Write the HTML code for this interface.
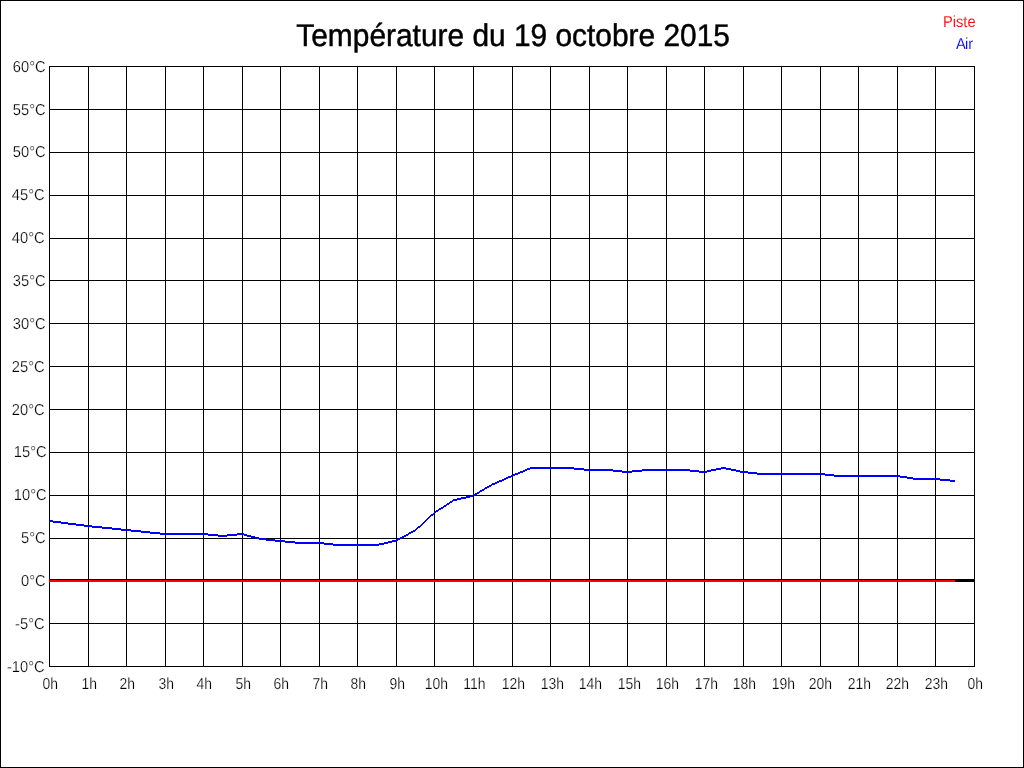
<!DOCTYPE html>
<html lang="fr">
<head>
<meta charset="utf-8">
<title>Température du 19 octobre 2015</title>
<style>
html,body{margin:0;padding:0;background:#fff;}
body{width:1024px;height:768px;overflow:hidden;position:relative;}
#frame{position:absolute;left:0;top:0;width:1022px;height:766px;border:1px solid #000;}
svg{position:absolute;left:0;top:0;will-change:transform;}
text{font-family:"Liberation Sans",Arial,sans-serif;fill:#000;text-rendering:geometricPrecision;}
.ti{font-size:29.8px;stroke:#000;stroke-width:0.45px;}
.lb{font-size:14.67px;stroke:#fff;stroke-width:0.2px;}
</style>
</head>
<body>
<div id="frame"></div>
<svg width="1024" height="768" viewBox="0 0 1024 768">
<g shape-rendering="crispEdges">
<rect x="49" y="66" width="1" height="601" fill="#000"/>
<rect x="88" y="66" width="1" height="601" fill="#000"/>
<rect x="126" y="66" width="1" height="601" fill="#000"/>
<rect x="165" y="66" width="1" height="601" fill="#000"/>
<rect x="203" y="66" width="1" height="601" fill="#000"/>
<rect x="242" y="66" width="1" height="601" fill="#000"/>
<rect x="280" y="66" width="1" height="601" fill="#000"/>
<rect x="319" y="66" width="1" height="601" fill="#000"/>
<rect x="357" y="66" width="1" height="601" fill="#000"/>
<rect x="396" y="66" width="1" height="601" fill="#000"/>
<rect x="434" y="66" width="1" height="601" fill="#000"/>
<rect x="473" y="66" width="1" height="601" fill="#000"/>
<rect x="512" y="66" width="1" height="601" fill="#000"/>
<rect x="550" y="66" width="1" height="601" fill="#000"/>
<rect x="589" y="66" width="1" height="601" fill="#000"/>
<rect x="627" y="66" width="1" height="601" fill="#000"/>
<rect x="666" y="66" width="1" height="601" fill="#000"/>
<rect x="704" y="66" width="1" height="601" fill="#000"/>
<rect x="743" y="66" width="1" height="601" fill="#000"/>
<rect x="781" y="66" width="1" height="601" fill="#000"/>
<rect x="820" y="66" width="1" height="601" fill="#000"/>
<rect x="858" y="66" width="1" height="601" fill="#000"/>
<rect x="897" y="66" width="1" height="601" fill="#000"/>
<rect x="935" y="66" width="1" height="601" fill="#000"/>
<rect x="974" y="66" width="1" height="601" fill="#000"/>
<rect x="49" y="66" width="926" height="1" fill="#000"/>
<rect x="49" y="109" width="926" height="1" fill="#000"/>
<rect x="49" y="152" width="926" height="1" fill="#000"/>
<rect x="49" y="195" width="926" height="1" fill="#000"/>
<rect x="49" y="238" width="926" height="1" fill="#000"/>
<rect x="49" y="280" width="926" height="1" fill="#000"/>
<rect x="49" y="323" width="926" height="1" fill="#000"/>
<rect x="49" y="366" width="926" height="1" fill="#000"/>
<rect x="49" y="409" width="926" height="1" fill="#000"/>
<rect x="49" y="452" width="926" height="1" fill="#000"/>
<rect x="49" y="495" width="926" height="1" fill="#000"/>
<rect x="49" y="538" width="926" height="1" fill="#000"/>
<rect x="49" y="580" width="926" height="1" fill="#000"/>
<rect x="49" y="623" width="926" height="1" fill="#000"/>
<rect x="49" y="666" width="926" height="1" fill="#000"/>
<rect x="49" y="579" width="926" height="3" fill="#000"/>
<rect x="49" y="580" width="906" height="2" fill="#f00"/>
<polygon fill="#00f" points="49.00,520.01 68.27,522.51 87.54,525.01 106.81,527.01 126.08,529.01 145.35,531.01 164.62,533.01 183.90,533.01 203.17,533.01 222.44,535.01 241.71,533.01 260.98,538.01 280.25,540.01 299.52,542.01 318.79,542.01 338.06,544.01 357.33,544.01 376.60,544.21 395.88,539.51 415.15,529.61 434.42,511.81 453.69,499.21 472.96,494.81 492.23,483.51 511.50,475.21 530.77,467.01 550.04,467.01 569.31,467.01 588.58,469.01 607.85,469.01 627.12,471.01 646.40,469.01 665.67,469.01 684.94,469.01 704.21,471.01 723.48,467.01 742.75,471.01 762.02,473.01 781.29,473.01 800.56,473.01 819.83,473.01 839.10,475.01 858.38,475.01 877.65,475.01 896.92,475.01 916.19,478.01 935.46,478.01 954.73,480.01 954.73,482.01 935.46,480.01 916.19,480.01 896.92,477.01 877.65,477.01 858.38,477.01 839.10,477.01 819.83,475.01 800.56,475.01 781.29,475.01 762.02,475.01 742.75,473.01 723.48,469.01 704.21,473.01 684.94,471.01 665.67,471.01 646.40,471.01 627.12,473.01 607.85,471.01 588.58,471.01 569.31,469.01 550.04,469.01 530.77,469.01 511.50,477.21 492.23,485.51 472.96,496.81 453.69,501.21 434.42,513.81 415.15,531.61 395.88,541.51 376.60,546.21 357.33,546.01 338.06,546.01 318.79,544.01 299.52,544.01 280.25,542.01 260.98,540.01 241.71,535.01 222.44,537.01 203.17,535.01 183.90,535.01 164.62,535.01 145.35,533.01 126.08,531.01 106.81,529.01 87.54,527.01 68.27,524.51 49.00,522.01"/>
</g>
<text class="ti" transform="translate(296.3,46) scale(1.003,1.055)">Température du 19 octobre 2015</text>
<text class="lb" text-anchor="end" transform="translate(45.60,72) scale(1.0,1.08)">60°C</text>
<text class="lb" text-anchor="end" transform="translate(45.60,115) scale(1.0,1.08)">55°C</text>
<text class="lb" text-anchor="end" transform="translate(45.60,157) scale(1.0,1.08)">50°C</text>
<text class="lb" text-anchor="end" transform="translate(44.60,200) scale(1.0,1.08)">45°C</text>
<text class="lb" text-anchor="end" transform="translate(44.60,243) scale(1.0,1.08)">40°C</text>
<text class="lb" text-anchor="end" transform="translate(45.60,286) scale(1.0,1.08)">35°C</text>
<text class="lb" text-anchor="end" transform="translate(45.60,329) scale(1.0,1.08)">30°C</text>
<text class="lb" text-anchor="end" transform="translate(44.60,372) scale(1.0,1.08)">25°C</text>
<text class="lb" text-anchor="end" transform="translate(44.60,415) scale(1.0,1.08)">20°C</text>
<text class="lb" text-anchor="end" transform="translate(46.60,457) scale(1.0,1.08)">15°C</text>
<text class="lb" text-anchor="end" transform="translate(46.60,500) scale(1.0,1.08)">10°C</text>
<text class="lb" text-anchor="end" transform="translate(45.60,543) scale(1.0,1.08)">5°C</text>
<text class="lb" text-anchor="end" transform="translate(45.60,586) scale(1.0,1.08)">0°C</text>
<text class="lb" text-anchor="end" transform="translate(44.60,629) scale(1.0,1.08)">-5°C</text>
<text class="lb" text-anchor="end" transform="translate(44.60,672) scale(1.0,1.08)">-10°C</text>
<text class="lb" text-anchor="middle" transform="translate(50.15,689) scale(0.95,1.08)">0h</text>
<text class="lb" text-anchor="middle" transform="translate(89.15,689) scale(0.95,1.08)">1h</text>
<text class="lb" text-anchor="middle" transform="translate(127.15,689) scale(0.95,1.08)">2h</text>
<text class="lb" text-anchor="middle" transform="translate(166.15,689) scale(0.95,1.08)">3h</text>
<text class="lb" text-anchor="middle" transform="translate(204.15,689) scale(0.95,1.08)">4h</text>
<text class="lb" text-anchor="middle" transform="translate(243.15,689) scale(0.95,1.08)">5h</text>
<text class="lb" text-anchor="middle" transform="translate(281.15,689) scale(0.95,1.08)">6h</text>
<text class="lb" text-anchor="middle" transform="translate(320.15,689) scale(0.95,1.08)">7h</text>
<text class="lb" text-anchor="middle" transform="translate(358.15,689) scale(0.95,1.08)">8h</text>
<text class="lb" text-anchor="middle" transform="translate(397.15,689) scale(0.95,1.08)">9h</text>
<text class="lb" text-anchor="middle" transform="translate(436.40,689) scale(0.95,1.08)">10h</text>
<text class="lb" text-anchor="middle" transform="translate(474.40,689) scale(0.95,1.08)">11h</text>
<text class="lb" text-anchor="middle" transform="translate(513.40,689) scale(0.95,1.08)">12h</text>
<text class="lb" text-anchor="middle" transform="translate(552.40,689) scale(0.95,1.08)">13h</text>
<text class="lb" text-anchor="middle" transform="translate(590.40,689) scale(0.95,1.08)">14h</text>
<text class="lb" text-anchor="middle" transform="translate(629.40,689) scale(0.95,1.08)">15h</text>
<text class="lb" text-anchor="middle" transform="translate(667.40,689) scale(0.95,1.08)">16h</text>
<text class="lb" text-anchor="middle" transform="translate(706.40,689) scale(0.95,1.08)">17h</text>
<text class="lb" text-anchor="middle" transform="translate(744.40,689) scale(0.95,1.08)">18h</text>
<text class="lb" text-anchor="middle" transform="translate(783.40,689) scale(0.95,1.08)">19h</text>
<text class="lb" text-anchor="middle" transform="translate(820.30,689) scale(0.95,1.08)">20h</text>
<text class="lb" text-anchor="middle" transform="translate(859.30,689) scale(0.95,1.08)">21h</text>
<text class="lb" text-anchor="middle" transform="translate(897.30,689) scale(0.95,1.08)">22h</text>
<text class="lb" text-anchor="middle" transform="translate(936.30,689) scale(0.95,1.08)">23h</text>
<text class="lb" text-anchor="middle" transform="translate(975.15,689) scale(0.95,1.08)">0h</text>
<text class="lb" transform="translate(943,27) scale(1,1.08)" style="fill:#f00;stroke-width:0.08px">Piste</text>
<text class="lb" transform="translate(956,49) scale(1,1.08)" dx="0 -0.9 0" style="fill:#00f;stroke-width:0.08px">Air</text>
</svg>
</body>
</html>
